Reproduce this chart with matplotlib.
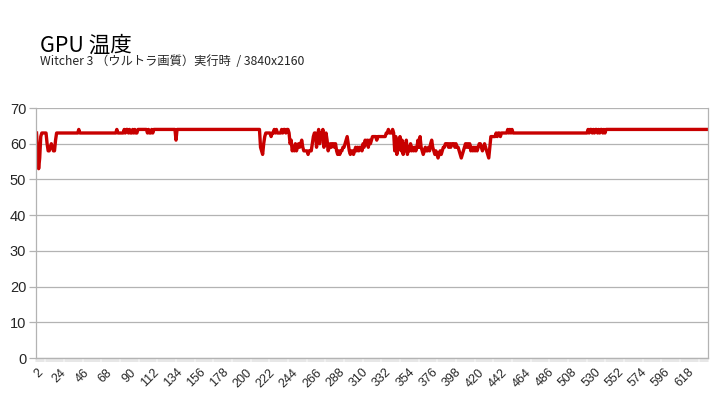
import matplotlib
matplotlib.use("Agg")
import matplotlib.pyplot as plt
from matplotlib.ticker import FixedLocator

plt.rcParams['font.family'] = ['Noto Sans CJK JP', 'DejaVu Sans']

title = "GPU 温度"
subtitle = "Witcher 3 （ウルトラ画質）実行時  / 3840x2160"

# GPU temperature readings (deg C), one per sample, first sample index = 2
temps = (
    [63, 58, 53, 56, 62, 63, 63, 63, 63, 63, 60, 58, 58, 59, 60, 59, 58, 58, 61, 63]
    + [63] * 20 + [64] + [63] * 35
    + [64, 63, 63, 63, 63, 63, 63, 64, 63, 64, 64, 63, 64, 63, 63, 64, 63, 64, 63, 63, 64]
    + [64] * 8 + [63, 64, 63, 63, 64, 63, 64]
    + [64] * 20 + [61] + [64] * 79
    + [59, 58, 57, 60, 62, 63, 63, 63, 63, 63, 62, 63, 63, 64, 63, 64, 63, 63, 63, 63,
       64, 63, 64, 64, 63, 64, 64, 63, 60, 61, 58, 59, 58, 60, 58, 59, 60, 59, 60, 61,
       59, 58, 58, 58, 58, 57, 58, 58, 58, 60, 62, 63, 63, 59, 62, 64, 60, 63, 62, 64,
       59, 62, 63, 61, 58, 59, 60, 59, 60, 60, 59, 60, 58, 57, 58, 57, 58, 58, 59, 59,
       60, 61, 62, 60, 58, 57, 58, 58, 57, 58, 59, 58, 59, 58, 59, 59, 58, 60, 59, 61,
       60, 61, 59, 61, 60, 61, 62, 62, 62, 62, 61, 62, 62, 62, 62, 62, 62, 62, 62, 63,
       63, 64, 63, 63, 63, 64, 63, 58, 62, 57, 61, 59, 62, 58, 61, 57, 60, 58, 61, 57,
       59, 58, 60, 58, 59, 58, 59, 58, 59, 61, 59, 62, 59, 58, 57, 58, 59, 58, 58, 59,
       58, 60, 61, 59, 58, 57, 58, 57, 56, 57, 58, 57, 58, 59, 59, 60, 60, 60, 59, 60,
       59, 60, 60, 60, 59, 60, 59, 59, 58, 57, 56, 57, 58, 59, 60, 59, 60, 59, 60, 58,
       59, 58, 59, 58, 59, 58, 59, 60, 60, 59, 58, 59, 60, 59, 58, 57, 56, 59, 62, 62,
       62, 62, 62, 63, 62, 63, 63, 62, 63, 63, 63, 63, 63, 63, 64, 63, 64, 63, 64, 63]
    + [63] * 70
    + [64, 63, 64, 64, 63, 64, 63, 64, 64, 63, 64, 63, 64, 64, 63, 64, 63, 64, 64]
    + [64] * 95
)
samples = list(range(2, 2 + len(temps)))
y_ticks = [0, 10, 20, 30, 40, 50, 60, 70]
x_label_step = 22

fig = plt.figure(figsize=(7.25, 4.05), dpi=100)
ax = fig.add_axes([36 / 725, 1 - 358 / 405, (708 - 36) / 725, (358 - 108) / 405])

ax.plot(samples, temps, color='#C80000', linewidth=2.4, solid_joinstyle='round')

ax.set_xlim(samples[0] - 0.5, samples[-1] + 0.5)
ax.set_ylim(0, 70)
ax.set_yticks(y_ticks)
ax.yaxis.grid(True, color='#B3B3B3', linewidth=0.9)
ax.set_axisbelow(True)

major = samples[::x_label_step]
ax.set_xticks(major)
ax.set_xticklabels([str(v) for v in major], rotation=45, ha='right',
                   rotation_mode='anchor', family='Liberation Sans', fontsize=9,
                   color='#262626')
ax.xaxis.set_minor_locator(FixedLocator([s - 0.5 for s in samples] + [samples[-1] + 0.5]))
ax.tick_params(axis='x', which='major', length=0, pad=6)
ax.tick_params(axis='x', which='minor', length=3, color='#C8C8C8', width=0.35)
ax.tick_params(axis='y', length=5, color='#B3B3B3', width=0.9, pad=2)
for lbl in ax.get_yticklabels():
    lbl.set_family('Liberation Sans')
    lbl.set_fontsize(10.5)
    lbl.set_color('#262626')

for side in ['left', 'bottom', 'right']:
    ax.spines[side].set_color('#B3B3B3')
    ax.spines[side].set_linewidth(0.9)
ax.spines['top'].set_visible(False)

fig.text(40 / 725, 1 - 52 / 405, title, fontsize=15.5, color='#000000', va='baseline')
fig.text(40 / 725, 1 - 65 / 405, subtitle, fontsize=8.8, color='#262626', va='baseline')

fig.savefig('out.png', dpi=100)
